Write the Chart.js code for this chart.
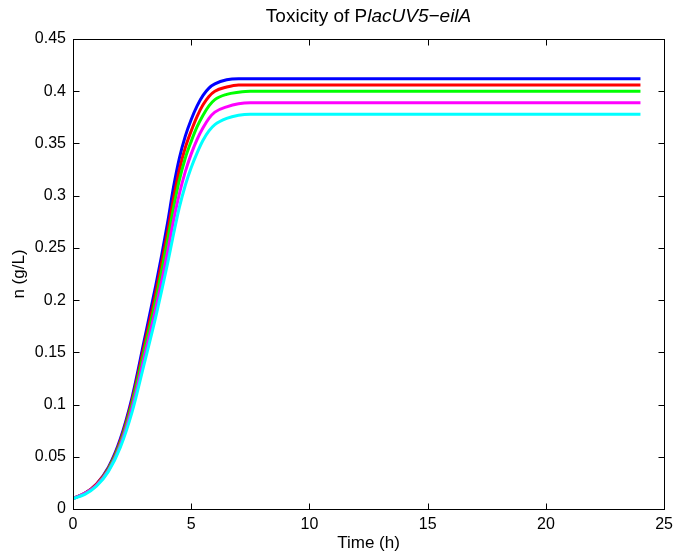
<!DOCTYPE html>
<html>
<head>
<meta charset="utf-8">
<title>Toxicity of PlacUV5-eilA</title>
<script src="https://cdn.jsdelivr.net/npm/chart.js@4"></script>
<style>
  html, body { margin: 0; padding: 0; background: #fff; }
  #wrap { width: 679px; height: 554px; position: relative; }
</style>
</head>
<body>
<div id="wrap"><canvas id="toxChart"></canvas></div>
<script>
// time points (h)
const timeH = [0, 0.5, 1, 1.5, 2, 2.5, 3, 3.5, 3.75, 4, 4.25, 4.5, 4.75, 5, 5.25, 5.5, 5.75, 6, 6.5, 7, 7.5, 8, 9, 10, 12, 14, 16, 18, 20, 22, 24];

// n (g/L) for each curve
const blueN = [0.010, 0.015, 0.024, 0.040, 0.067, 0.107, 0.160, 0.214, 0.243, 0.274, 0.308, 0.336, 0.357, 0.373, 0.386, 0.396, 0.403, 0.407, 0.411, 0.412, 0.412, 0.412, 0.412, 0.412, 0.412, 0.412, 0.412, 0.412, 0.412, 0.412, 0.412];
const redN = [0.010, 0.015, 0.024, 0.039, 0.065, 0.104, 0.155, 0.207, 0.236, 0.265, 0.297, 0.325, 0.346, 0.362, 0.376, 0.387, 0.395, 0.400, 0.404, 0.406, 0.406, 0.406, 0.406, 0.406, 0.406, 0.406, 0.406, 0.406, 0.406, 0.406, 0.406];
const greenN = [0.010, 0.015, 0.023, 0.038, 0.063, 0.101, 0.150, 0.200, 0.228, 0.257, 0.288, 0.315, 0.336, 0.352, 0.366, 0.377, 0.386, 0.392, 0.397, 0.399, 0.400, 0.400, 0.400, 0.400, 0.400, 0.400, 0.400, 0.400, 0.400, 0.400, 0.400];
const magentaN = [0.010, 0.015, 0.023, 0.037, 0.061, 0.097, 0.144, 0.192, 0.218, 0.246, 0.276, 0.302, 0.323, 0.340, 0.354, 0.365, 0.374, 0.380, 0.385, 0.388, 0.389, 0.389, 0.389, 0.389, 0.389, 0.389, 0.389, 0.389, 0.389, 0.389, 0.389];
const cyanN = [0.010, 0.014, 0.022, 0.036, 0.059, 0.093, 0.138, 0.184, 0.209, 0.235, 0.263, 0.289, 0.310, 0.327, 0.341, 0.353, 0.362, 0.368, 0.374, 0.377, 0.378, 0.378, 0.378, 0.378, 0.378, 0.378, 0.378, 0.378, 0.378, 0.378, 0.378];

const xTicks = [0, 5, 10, 15, 20, 25];
const yTicks = [0, 0.05, 0.1, 0.15, 0.2, 0.25, 0.3, 0.35, 0.4, 0.45];

const FONT = "'Liberation Sans', Arial, Helvetica, sans-serif";

function pts(vals) {
  return vals.map((v, i) => ({ x: timeH[i], y: v }));
}

function makeSet(vals, color, order) {
  return {
    data: pts(vals),
    borderColor: color,
    backgroundColor: color,
    borderWidth: 3,
    pointRadius: 0,
    fill: false,
    cubicInterpolationMode: "monotone",
    order: order,
  };
}

// title with the italic part, drawn on the canvas
const titlePlugin = {
  id: "mixedTitle",
  afterDraw(chart) {
    const ctx = chart.ctx;
    const area = chart.chartArea;
    const plain = "Toxicity of P";
    const ital = "lacUV5\u2212eilA";
    ctx.save();
    ctx.fillStyle = "#000";
    ctx.textBaseline = "middle";
    ctx.font = "19px " + FONT;
    const w1 = ctx.measureText(plain).width;
    ctx.font = "italic 19px " + FONT;
    const w2 = ctx.measureText(ital).width;
    const x0 = (area.left + area.right) / 2 - (w1 + w2) / 2;
    ctx.font = "19px " + FONT;
    ctx.textAlign = "left";
    ctx.fillText(plain, x0, 17);
    ctx.font = "italic 19px " + FONT;
    ctx.fillText(ital, x0 + w1, 17);
    ctx.restore();
  },
};

// matlab style box with ticks pointing inwards on all sides
const boxPlugin = {
  id: "boxTicks",
  afterDraw(chart) {
    const ctx = chart.ctx;
    const a = chart.chartArea;
    const xs = chart.scales.x;
    const ys = chart.scales.y;
    const L = Math.round(a.left) + 0.5;
    const R = Math.round(a.right) + 0.5;
    const T = Math.round(a.top) + 0.5;
    const B = Math.round(a.bottom) + 0.5;
    const len = 6;
    ctx.save();
    ctx.strokeStyle = "#000";
    ctx.lineWidth = 1;
    ctx.beginPath();
    xs.ticks.forEach((t) => {
      const px = Math.round(xs.getPixelForValue(t.value)) + 0.5;
      ctx.moveTo(px, B);
      ctx.lineTo(px, B - len);
      ctx.moveTo(px, T);
      ctx.lineTo(px, T + len);
    });
    ys.ticks.forEach((t) => {
      const py = Math.round(ys.getPixelForValue(t.value)) + 0.5;
      ctx.moveTo(L, py);
      ctx.lineTo(L + len, py);
      ctx.moveTo(R, py);
      ctx.lineTo(R - len, py);
    });
    ctx.stroke();
    ctx.strokeRect(L, T, R - L, B - T);
    ctx.restore();
  },
};

const chart = new Chart(document.getElementById("toxChart"), {
  type: "line",
  data: {
    datasets: [
      makeSet(blueN, "#0000ff", 4),
      makeSet(redN, "#ff0000", 3),
      makeSet(greenN, "#00ff00", 2),
      makeSet(magentaN, "#ff00ff", 1),
      makeSet(cyanN, "#00ffff", 0),
    ],
  },
  options: {
    responsive: true,
    maintainAspectRatio: false,
    animation: false,
    layout: { padding: { top: 39, right: 12, left: 9, bottom: 0 } },
    plugins: {
      legend: { display: false },
      tooltip: { enabled: false },
      title: { display: false },
    },
    scales: {
      x: {
        type: "linear",
        min: 0,
        max: 25,
        afterBuildTicks: (s) => { s.ticks = xTicks.map((v) => ({ value: v })); },
        afterFit: (s) => { s.height = 45; },
        grid: { display: false, drawTicks: false },
        border: { display: false },
        ticks: {
          color: "#000",
          padding: 6,
          maxRotation: 0,
          font: { family: FONT, size: 16 },
          callback: (v) => String(v),
        },
        title: {
          display: true,
          text: "Time (h)",
          color: "#000",
          font: { family: FONT, size: 17 },
          padding: { top: 0, bottom: 0 },
        },
      },
      y: {
        type: "linear",
        min: 0,
        max: 0.45,
        afterBuildTicks: (s) => { s.ticks = yTicks.map((v) => ({ value: v })); },
        afterFit: (s) => { s.width = 64; },
        grid: { display: false, drawTicks: false },
        border: { display: false },
        ticks: {
          color: "#000",
          padding: 7,
          font: { family: FONT, size: 16 },
          callback: (v) => String(Math.round(v * 100) / 100),
        },
        title: {
          display: true,
          text: "n (g/L)",
          color: "#000",
          font: { family: FONT, size: 17 },
          padding: 0,
        },
      },
    },
  },
  plugins: [titlePlugin, boxPlugin],
});
</script>
</body>
</html>
